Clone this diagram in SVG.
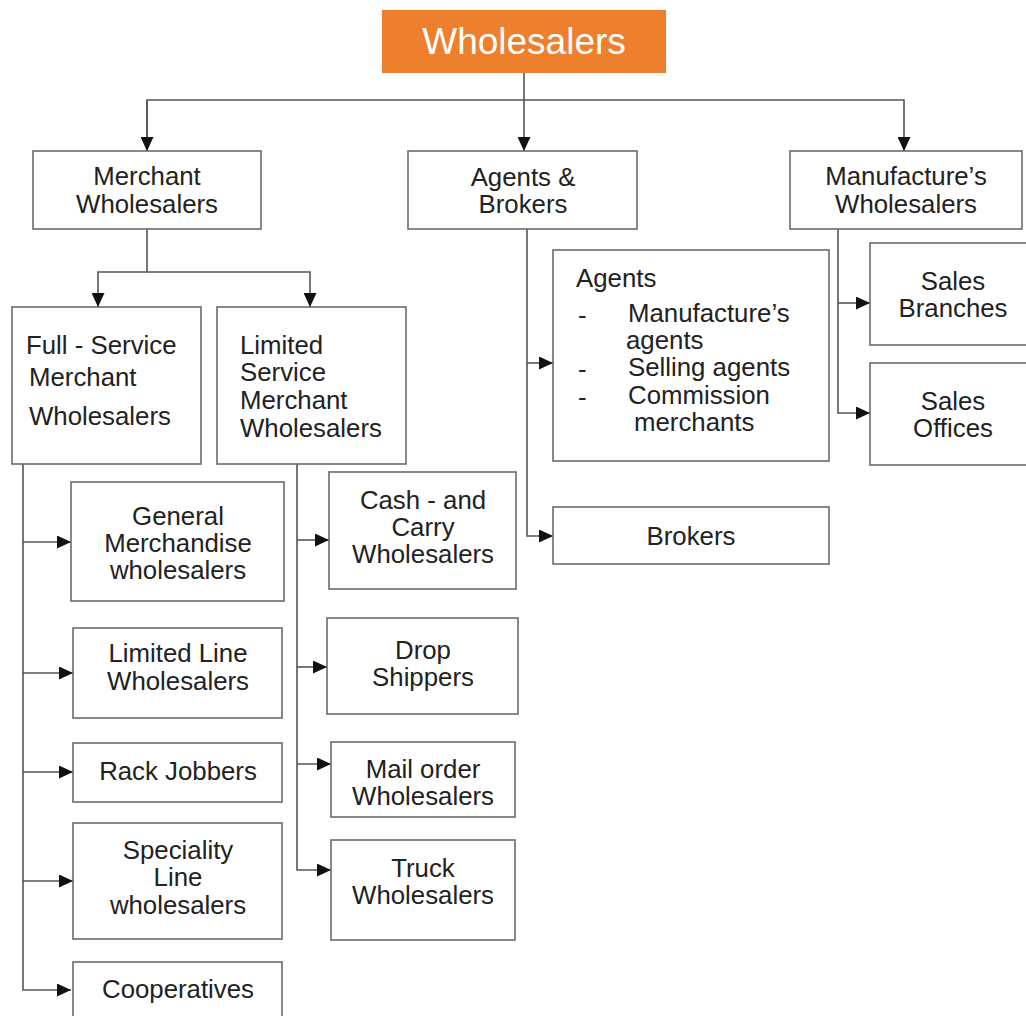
<svg xmlns="http://www.w3.org/2000/svg" width="1026" height="1016" viewBox="0 0 1026 1016">
  <style>
    .box { fill: #ffffff; stroke: #6b6b6b; stroke-width: 1.6; }
    .root { fill: #ee7f2d; stroke: none; }
    .t { font-family: "Liberation Sans", Arial, sans-serif; font-size: 25.8px; fill: #222222; }
    .c { text-anchor: middle; }
    .title { font-family: "Liberation Sans", Arial, sans-serif; font-size: 37px; fill: #ffffff; text-anchor: middle; }
    .wire { fill: none; stroke: #555555; stroke-width: 1.6; }
  </style>
  <defs>
    <marker id="arrow" markerUnits="userSpaceOnUse" markerWidth="15" markerHeight="13" refX="14" refY="6.5" orient="auto">
      <path d="M0,0 L14,6.5 L0,13 Z" fill="#111111"/>
    </marker>
  </defs>

  <rect width="1026" height="1016" fill="#ffffff"/>

  <!-- connectors -->
  <g id="connectors" class="wire">
    <path d="M524,73 V151" marker-end="url(#arrow)"/>
    <path d="M147,151 V100 H904 V151" marker-end="url(#arrow)"/>
    <path d="M147,100 V151" marker-end="url(#arrow)"/>
    <!-- merchant wholesalers split -->
    <path d="M147,229 V272 H98 V307" marker-end="url(#arrow)"/>
    <path d="M147,272 H310 V307" marker-end="url(#arrow)"/>
    <!-- full-service branches -->
    <path d="M23,464 V990 H71" marker-end="url(#arrow)"/>
    <path d="M23,542 H71" marker-end="url(#arrow)"/>
    <path d="M23,673 H73" marker-end="url(#arrow)"/>
    <path d="M23,772 H73" marker-end="url(#arrow)"/>
    <path d="M23,881 H73" marker-end="url(#arrow)"/>
    <!-- limited service branches -->
    <path d="M297,464 V870 H331" marker-end="url(#arrow)"/>
    <path d="M297,540 H329" marker-end="url(#arrow)"/>
    <path d="M297,667 H327" marker-end="url(#arrow)"/>
    <path d="M297,764 H331" marker-end="url(#arrow)"/>
    <!-- agents & brokers branches -->
    <path d="M527,229 V536 H553" marker-end="url(#arrow)"/>
    <path d="M527,363 H553" marker-end="url(#arrow)"/>
    <!-- manufacturer's wholesalers branches -->
    <path d="M838,229 V413 H870" marker-end="url(#arrow)"/>
    <path d="M838,303 H870" marker-end="url(#arrow)"/>
  </g>

  <g id="wholesalers">
    <rect class="root" x="382" y="10" width="284" height="63"/>
    <text class="title" x="524" y="54">Wholesalers</text>
  </g>

  <g id="merchant-wholesalers">
    <rect class="box" x="33" y="151" width="228" height="78"/>
    <text class="t c" x="147" y="185">Merchant</text>
    <text class="t c" x="147" y="213">Wholesalers</text>
  </g>

  <g id="agents-brokers">
    <rect class="box" x="408" y="151" width="229" height="78"/>
    <text class="t c" x="523" y="186">Agents &amp;</text>
    <text class="t c" x="523" y="213">Brokers</text>
  </g>

  <g id="manufacturers-wholesalers">
    <rect class="box" x="790" y="151" width="232" height="78"/>
    <text class="t c" x="906" y="185">Manufacture’s</text>
    <text class="t c" x="906" y="213">Wholesalers</text>
  </g>

  <g id="full-service">
    <rect class="box" x="12" y="307" width="189" height="157"/>
    <text class="t" x="26" y="354">Full - Service</text>
    <text class="t" x="29" y="386">Merchant</text>
    <text class="t" x="29" y="425">Wholesalers</text>
  </g>

  <g id="limited-service">
    <rect class="box" x="217" y="307" width="189" height="157"/>
    <text class="t" x="240" y="354">Limited</text>
    <text class="t" x="240" y="381">Service</text>
    <text class="t" x="240" y="409">Merchant</text>
    <text class="t" x="240" y="437">Wholesalers</text>
  </g>

  <g id="general-merchandise">
    <rect class="box" x="71" y="482" width="213" height="119"/>
    <text class="t c" x="178" y="525">General</text>
    <text class="t c" x="178" y="552">Merchandise</text>
    <text class="t c" x="178" y="579">wholesalers</text>
  </g>

  <g id="limited-line">
    <rect class="box" x="73" y="628" width="209" height="90"/>
    <text class="t c" x="178" y="662">Limited Line</text>
    <text class="t c" x="178" y="690">Wholesalers</text>
  </g>

  <g id="rack-jobbers">
    <rect class="box" x="73" y="743" width="209" height="59"/>
    <text class="t c" x="178" y="780">Rack Jobbers</text>
  </g>

  <g id="speciality-line">
    <rect class="box" x="73" y="823" width="209" height="116"/>
    <text class="t c" x="178" y="859">Speciality</text>
    <text class="t c" x="178" y="886">Line</text>
    <text class="t c" x="178" y="914">wholesalers</text>
  </g>

  <g id="cooperatives">
    <rect class="box" x="73" y="962" width="209" height="70"/>
    <text class="t c" x="178" y="998">Cooperatives</text>
  </g>

  <g id="cash-and-carry">
    <rect class="box" x="329" y="472" width="187" height="117"/>
    <text class="t c" x="423" y="509">Cash - and</text>
    <text class="t c" x="423" y="536">Carry</text>
    <text class="t c" x="423" y="563">Wholesalers</text>
  </g>

  <g id="drop-shippers">
    <rect class="box" x="327" y="618" width="191" height="96"/>
    <text class="t c" x="423" y="659">Drop</text>
    <text class="t c" x="423" y="686">Shippers</text>
  </g>

  <g id="mail-order">
    <rect class="box" x="331" y="742" width="184" height="75"/>
    <text class="t c" x="423" y="778">Mail order</text>
    <text class="t c" x="423" y="805">Wholesalers</text>
  </g>

  <g id="truck">
    <rect class="box" x="331" y="840" width="184" height="100"/>
    <text class="t c" x="423" y="877">Truck</text>
    <text class="t c" x="423" y="904">Wholesalers</text>
  </g>

  <g id="agents">
    <rect class="box" x="553" y="250" width="276" height="211"/>
    <text class="t" x="576" y="287">Agents</text>
    <text class="t" x="578" y="324">-</text>
    <text class="t" x="628" y="322">Manufacture’s</text>
    <text class="t" x="626" y="349">agents</text>
    <text class="t" x="578" y="378">-</text>
    <text class="t" x="628" y="376">Selling agents</text>
    <text class="t" x="578" y="406">-</text>
    <text class="t" x="628" y="404">Commission</text>
    <text class="t" x="634" y="431">merchants</text>
  </g>

  <g id="brokers">
    <rect class="box" x="553" y="507" width="276" height="57"/>
    <text class="t c" x="691" y="545">Brokers</text>
  </g>

  <g id="sales-branches">
    <rect class="box" x="870" y="243" width="170" height="102"/>
    <text class="t c" x="953" y="290">Sales</text>
    <text class="t c" x="953" y="317">Branches</text>
  </g>

  <g id="sales-offices">
    <rect class="box" x="870" y="363" width="170" height="102"/>
    <text class="t c" x="953" y="410">Sales</text>
    <text class="t c" x="953" y="437">Offices</text>
  </g>
</svg>
